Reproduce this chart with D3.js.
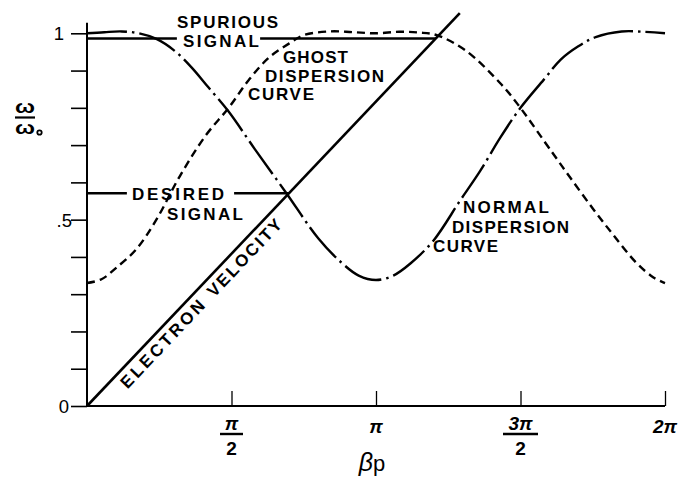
<!DOCTYPE html>
<html>
<head>
<meta charset="utf-8">
<script src="https://cdn.jsdelivr.net/npm/d3@7"></script>
<style>
  body { margin: 0; background: #fff; }
  text { font-family: "Liberation Sans", Arial, sans-serif; fill: #000; }
  .lbl { font-weight: bold; font-size: 17px; }
  .tick line { stroke: #000; }
</style>
</head>
<body>
<div id="chart"></div>
<script>
// beta is in units of pi, omega is omega/omega0
var normalBeta  = [0, 0.06, 0.12, 0.18, 0.24, 0.30, 0.36, 0.42, 0.49, 0.58, 0.69, 0.80, 0.88, 0.94, 1.00,
                   1.06, 1.12, 1.20, 1.29, 1.36, 1.43, 1.50, 1.58, 1.64, 1.70, 1.76, 1.85, 1.93, 2.00];
var normalOmega = [1.0, 1.003, 1.005, 1.0, 0.985, 0.955, 0.91, 0.855, 0.79, 0.69, 0.571, 0.45, 0.385, 0.35, 0.338,
                   0.35, 0.383, 0.445, 0.55, 0.63, 0.72, 0.80, 0.875, 0.93, 0.965, 0.99, 1.005, 1.004, 1.0];

var ghostBeta  = [0, 0.05, 0.10, 0.17, 0.24, 0.32, 0.41, 0.49, 0.56, 0.63, 0.70, 0.75, 0.84, 0.92, 1.00,
                  1.08, 1.15, 1.21, 1.31, 1.43, 1.49, 1.61, 1.67, 1.75, 1.82, 1.90, 1.96, 2.00];
var ghostOmega = [0.33, 0.34, 0.37, 0.42, 0.50, 0.615, 0.725, 0.80, 0.875, 0.935, 0.973, 0.995, 1.005, 1.003, 1.0,
                  1.004, 1.002, 0.995, 0.954, 0.866, 0.81, 0.68, 0.615, 0.53, 0.46, 0.385, 0.345, 0.33];

var electronBeta  = [0, 1.29];
var electronOmega = [0, 1.054];

var desiredOmega = 0.571;
var desiredSegments = [[0, 0.138], [0.509, 0.699]];
var spuriousOmega = 0.986;
var spuriousSegments = [[0, 0.311], [0.599, 1.207]];

var yTickValues = [0, 0.1, 0.2, 0.3, 0.4, 0.5, 0.6, 0.7, 0.8, 0.9, 1.0];
var yLabelValues = [0, 0.5, 1];
var yLabelTexts = ["0", ".5", "1"];

var xTickValues = [0.5, 1, 1.5, 2];
var xTickNum = ["\u03c0", "\u03c0", "3\u03c0", "2\u03c0"];
var xTickDen = ["2", "", "2", ""];

var svgWidth = 687;
var svgHeight = 477;

var svg = d3.select("#chart")
  .append("svg")
  .attr("width", svgWidth)
  .attr("height", svgHeight);

var xScale = d3.scaleLinear().domain([0, 2]).range([87, 665]);
var yScale = d3.scaleLinear().domain([0, 1]).range([406, 33.3]);

// axes
var yAxis = d3.axisLeft(yScale)
  .tickValues(yTickValues)
  .tickSize(16)
  .tickFormat(function(d) {
    var i = yLabelValues.indexOf(d);
    return i < 0 ? "" : yLabelTexts[i];
  });

var yg = svg.append("g")
  .attr("transform", `translate(${xScale(0)},0)`)
  .call(yAxis);
yg.select(".domain").remove();
yg.selectAll(".tick line").attr("stroke-width", 1.6);
yg.selectAll(".tick text")
  .style("font-size", "18.5px")
  .style("font-family", "'Liberation Sans', Arial, sans-serif")
  .attr("x", function(d) { return d === 1 ? -23 : (d === 0.5 ? -15 : -18); })
  .attr("dy", "0.36em");

var xAxis = d3.axisBottom(xScale)
  .tickValues(xTickValues)
  .tickSizeInner(-15)
  .tickSizeOuter(0)
  .tickFormat("");

var xg = svg.append("g")
  .attr("transform", `translate(0,${yScale(0)})`)
  .call(xAxis);
xg.select(".domain").remove();
xg.selectAll(".tick line").attr("stroke-width", 1.3).attr("stroke", "#333");

svg.append("line")
  .attr("x1", xScale(0)).attr("x2", xScale(2))
  .attr("y1", yScale(0)).attr("y2", yScale(0))
  .attr("stroke", "#000").attr("stroke-width", 2);
svg.append("line")
  .attr("x1", xScale(0)).attr("x2", xScale(0))
  .attr("y1", yScale(0)).attr("y2", yScale(1.028))
  .attr("stroke", "#000").attr("stroke-width", 2);

// x tick labels (fractions of pi)
xTickValues.forEach(function(v, i) {
  var cx = xScale(v);
  var g = svg.append("g").attr("transform", `translate(${cx},0)`);
  var hasDen = xTickDen[i] !== "";
  g.append("text")
    .attr("x", 0).attr("y", hasDen ? 430 : 433)
    .attr("text-anchor", "middle")
    .style("font-size", "19px").style("font-weight", "bold").style("font-style", "italic")
    .text(xTickNum[i]);
  if (hasDen) {
    var w = xTickNum[i].length > 1 ? 35 : 23;
    g.append("line")
      .attr("x1", -w / 2).attr("x2", w / 2)
      .attr("y1", 434).attr("y2", 434)
      .attr("stroke", "#000").attr("stroke-width", 2.4);
    g.append("text")
      .attr("x", 0).attr("y", 455)
      .attr("text-anchor", "middle")
      .style("font-size", "19px").style("font-weight", "bold")
      .text(xTickDen[i]);
  }
});

// axis titles
var bp = svg.append("text")
  .attr("x", xScale(1) - 4).attr("y", 471)
  .attr("text-anchor", "middle")
  .style("font-size", "25px");
bp.append("tspan").style("font-style", "italic").text("\u03b2");
bp.append("tspan").style("font-size", "22px").text("p");

svg.append("text")
  .attr("x", 25).attr("y", 113)
  .attr("text-anchor", "middle")
  .attr("textLength", 20).attr("lengthAdjust", "spacingAndGlyphs")
  .style("font-size", "19px").style("font-weight", "bold")
  .text("\u03c9");
svg.append("line")
  .attr("x1", 15).attr("x2", 35).attr("y1", 117.5).attr("y2", 117.5)
  .attr("stroke", "#000").attr("stroke-width", 2.2);
svg.append("text")
  .attr("x", 25).attr("y", 134)
  .attr("text-anchor", "middle")
  .attr("textLength", 20).attr("lengthAdjust", "spacingAndGlyphs")
  .style("font-size", "19px").style("font-weight", "bold")
  .text("\u03c9");
svg.append("circle")
  .attr("cx", 39.5).attr("cy", 132.5).attr("r", 2.2)
  .attr("fill", "none").attr("stroke", "#000").attr("stroke-width", 1.8);

// curves
var line = d3.line()
  .x(d => xScale(d[0]))
  .y(d => yScale(d[1]))
  .curve(d3.curveCatmullRom.alpha(0.5));

svg.append("path")
  .datum(d3.zip(ghostBeta, ghostOmega))
  .attr("d", line)
  .attr("fill", "none")
  .attr("stroke", "#000")
  .attr("stroke-width", 2.4)
  .attr("stroke-dasharray", "8,5");

svg.append("path")
  .datum(d3.zip(normalBeta, normalOmega))
  .attr("d", line)
  .attr("fill", "none")
  .attr("stroke", "#000")
  .attr("stroke-width", 2.4)
  .attr("stroke-dasharray", "40,5,2.5,5");

svg.append("path")
  .datum(d3.zip(electronBeta, electronOmega))
  .attr("d", d3.line().x(d => xScale(d[0])).y(d => yScale(d[1])))
  .attr("fill", "none")
  .attr("stroke", "#000")
  .attr("stroke-width", 2.6);

function levelSegments(segs, omega) {
  svg.append("g").selectAll("line")
    .data(segs)
    .enter()
    .append("line")
    .attr("x1", d => xScale(d[0]))
    .attr("x2", d => xScale(d[1]))
    .attr("y1", yScale(omega))
    .attr("y2", yScale(omega))
    .attr("stroke", "#000")
    .attr("stroke-width", 2.6);
}
levelSegments(desiredSegments, desiredOmega);
levelSegments(spuriousSegments, spuriousOmega);

// annotations
function label(txt, x, y, w) {
  svg.append("text")
    .attr("class", "lbl")
    .attr("x", x).attr("y", y)
    .attr("textLength", w).attr("lengthAdjust", "spacing")
    .text(txt);
}
label("SPURIOUS", 177, 28, 101);
label("SIGNAL", 183, 47, 76);
label("GHOST", 283, 63, 65);
label("DISPERSION", 265, 82, 119);
label("CURVE", 248, 100, 66);
label("DESIRED", 132, 200, 92);
label("SIGNAL", 167, 220, 76);
label("NORMAL", 463, 213, 86);
label("DISPERSION", 452, 233, 117);
label("CURVE", 433, 252, 65);

// electron velocity label along the line
var ex0 = xScale(electronBeta[0]), ey0 = yScale(electronOmega[0]);
var ex1 = xScale(electronBeta[1]), ey1 = yScale(electronOmega[1]);
var ang = Math.atan2(ey1 - ey0, ex1 - ex0);
var ux = Math.cos(ang), uy = Math.sin(ang);
var nx = -uy, ny = ux;
var off = 18, start = 40;
var ev = svg.append("g")
  .attr("transform", `translate(${ex0 + start * ux + off * nx},${ey0 + start * uy + off * ny}) rotate(${ang * 180 / Math.PI})`);
ev.append("text").attr("class", "lbl").attr("x", 0).attr("y", 0)
  .attr("textLength", 114).attr("lengthAdjust", "spacing").text("ELECTRON");
ev.append("text").attr("class", "lbl").attr("x", 126).attr("y", 0)
  .attr("textLength", 100).attr("lengthAdjust", "spacing").text("VELOCITY");
</script>
</body>
</html>
